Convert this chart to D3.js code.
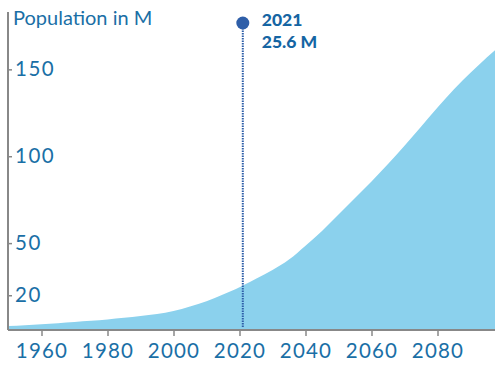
<!DOCTYPE html>
<html>
<head>
<meta charset="utf-8">
<script src="https://cdn.jsdelivr.net/npm/d3@7"></script>
<style>
  html, body { margin: 0; padding: 0; background: #fff; }
  svg { display: block; font-family: Lato, "Open Sans", sans-serif; }
</style>
</head>
<body>
<svg id="chart" width="495" height="365"></svg>
<script>
const years = [1950,1955,1960,1965,1970,1975,1980,1985,1990,1995,2000,2005,2010,2015,2020,2021,2025,2030,2035,2040,2045,2050,2055,2060,2065,2070,2075,2080,2085,2090,2095,2100];
const population = [2.3,2.8,3.3,3.9,4.6,5.3,6.1,7.0,8.0,9.2,10.9,13.5,16.5,20.5,24.6,25.6,29.5,34.5,40.5,48.5,57,66.5,76,85.5,95.5,106,117,128,138.5,148,157,165];
const xTicks = [1960,1980,2000,2020,2040,2060,2080];
const yTicks = [20,50,100,150];
const yLabel = "Population in M";
const highlightYear = 2021;
const highlightValue = 25.6;

const data = years.map((y, i) => ({year: y, value: population[i]}));

const svg = d3.select("#chart");
const x = d3.scaleLinear().domain([1950, 2100]).range([8.5, 503.5]);
const y = d3.scaleLinear().domain([0, 183]).range([330, 12]);

const area = d3.area()
  .curve(d3.curveMonotoneX)
  .x(d => x(d.year))
  .y0(y(0))
  .y1(d => y(d.value));

svg.append("path")
  .datum(data)
  .attr("fill", "#8bd1ed")
  .attr("d", area);

// x axis
const xAxis = svg.append("g")
  .attr("transform", `translate(0,${y(0)})`)
  .call(d3.axisBottom(x).tickValues(xTicks).tickFormat(d3.format("d")).tickSize(6).tickPadding(7));
xAxis.select(".domain").attr("stroke", "#888").attr("stroke-width", 2).attr("d", `M8,0H495`);
xAxis.selectAll(".tick line").attr("stroke", "#888").attr("stroke-width", 1.5);
xAxis.selectAll(".tick text")
  .attr("fill", "#1a6fa6")
  .style("font-size", "20.5px")
  .style("letter-spacing", "1.2px")
  .style("font-family", "Lato, sans-serif");

// y axis
const yAxis = svg.append("g")
  .attr("transform", `translate(8,0)`)
  .call(d3.axisRight(y).tickValues(yTicks).tickSize(4).tickPadding(3));
yAxis.select(".domain").attr("stroke", "#888").attr("stroke-width", 2).attr("d", `M0,${y(0)}V12`);
yAxis.selectAll(".tick line").attr("stroke", "#888").attr("stroke-width", 1.5);
yAxis.selectAll(".tick text")
  .attr("fill", "#1a6fa6")
  .style("font-size", "20.5px")
  .style("letter-spacing", "1.5px")
  .style("font-family", "Lato, sans-serif");

svg.append("text")
  .attr("x", 13)
  .attr("y", 25)
  .attr("fill", "#1a6fa6")
  .style("font-size", "20px")
  .text(yLabel);

// highlight
const hx = x(highlightYear);
svg.append("line")
  .attr("x1", hx).attr("x2", hx)
  .attr("y1", 23).attr("y2", 328)
  .attr("stroke", "#2e5ea8")
  .attr("stroke-width", 2)
  .attr("stroke-dasharray", "1.5 1");
svg.append("circle")
  .attr("cx", hx).attr("cy", 23).attr("r", 6.5)
  .attr("fill", "#2e5ea8");
svg.append("text")
  .attr("x", hx + 19).attr("y", 26)
  .attr("fill", "#1565a3")
  .style("font-size", "17.5px").style("font-weight", "900")
  .text(String(highlightYear));
svg.append("text")
  .attr("x", hx + 19).attr("y", 47.5)
  .attr("fill", "#1565a3")
  .style("font-size", "17.5px").style("font-weight", "900")
  .text(highlightValue + " M");
</script>
</body>
</html>
